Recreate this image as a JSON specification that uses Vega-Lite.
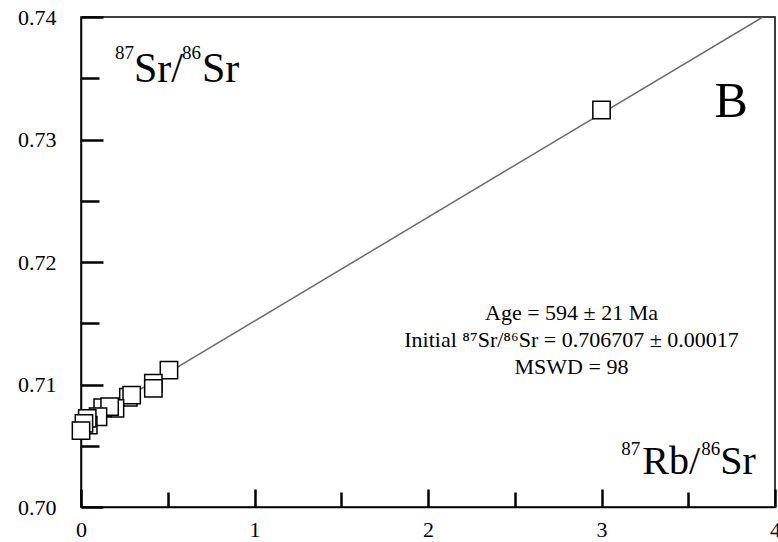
{
  "$schema": "https://vega.github.io/schema/vega-lite/v6.json",
  "width": 694,
  "height": 490,
  "autosize": {"type": "none"},
  "padding": {"left": 81, "top": 17, "right": 3, "bottom": 35},
  "background": "white",
  "config": {
    "view": {"stroke": "black", "strokeWidth": 1.5},
    "font": "Liberation Serif"
  },
  "datasets": {
    "points": [
      {"rbsr": 3.0, "srsr": 0.73241},
      {"rbsr": 0.507, "srsr": 0.71118},
      {"rbsr": 0.417, "srsr": 0.7101},
      {"rbsr": 0.417, "srsr": 0.70969},
      {"rbsr": 0.273, "srsr": 0.70896},
      {"rbsr": 0.292, "srsr": 0.70914},
      {"rbsr": 0.196, "srsr": 0.70805},
      {"rbsr": 0.125, "srsr": 0.70811},
      {"rbsr": 0.165, "srsr": 0.70819},
      {"rbsr": 0.098, "srsr": 0.70737},
      {"rbsr": 0.042, "srsr": 0.70669},
      {"rbsr": 0.036, "srsr": 0.70724},
      {"rbsr": 0.017, "srsr": 0.70683},
      {"rbsr": 0.0, "srsr": 0.70623}
    ],
    "isochron": [
      {"rbsr": 0.0, "srsr": 0.706707},
      {"rbsr": 3.93, "srsr": 0.74}
    ],
    "titles": [
      {"title": "y", "part": "sup1", "text": "87", "x": 0.196, "y": 0.73469},
      {"title": "y", "part": "main1", "text": "Sr/", "x": 0.196, "y": 0.73469},
      {"title": "y", "part": "sup2", "text": "86", "x": 0.196, "y": 0.73469},
      {"title": "y", "part": "main2", "text": "Sr", "x": 0.196, "y": 0.73469},
      {"title": "x", "part": "sup1", "text": "87", "x": 3.114, "y": 0.70269},
      {"title": "x", "part": "main1", "text": "Rb/", "x": 3.114, "y": 0.70269},
      {"title": "x", "part": "sup2", "text": "86", "x": 3.114, "y": 0.70269},
      {"title": "x", "part": "main2", "text": "Sr", "x": 3.114, "y": 0.70269}
    ],
    "panel": [
      {"x": 3.844, "y": 0.73184, "label": "B"}
    ],
    "stats": [
      {"x": 2.827, "y": 0.71527, "lines": ["Age = 594 ± 21 Ma", "Initial ⁸⁷Sr/⁸⁶Sr = 0.706707 ± 0.00017", "MSWD = 98"]}
    ]
  },
  "encoding": {
    "x": {
      "type": "quantitative",
      "scale": {"domain": [0, 4], "nice": false, "zero": false},
      "axis": {
        "title": null,
        "values": [0, 0.5, 1, 1.5, 2, 2.5, 3, 3.5, 4],
        "labelExpr": "datum.value % 1 == 0 ? format(datum.value, 'd') : ''",
        "grid": false,
        "domainColor": "black",
        "domainWidth": 1.5,
        "tickColor": "black",
        "tickWidth": 2.5,
        "tickSize": {"condition": {"test": "datum.value % 1 == 0", "value": -18}, "value": -15},
        "labelFont": "Liberation Serif",
        "labelFontSize": 22,
        "labelColor": "black",
        "labelPadding": 30,
        "labelFlush": false
      }
    },
    "y": {
      "type": "quantitative",
      "scale": {"domain": [0.7, 0.74], "nice": false, "zero": false},
      "axis": {
        "title": null,
        "values": [0.7, 0.705, 0.71, 0.715, 0.72, 0.725, 0.73, 0.735, 0.74],
        "labelExpr": "round(datum.value * 200) % 2 == 0 ? format(datum.value, '.2f') : ''",
        "grid": false,
        "domainColor": "black",
        "domainWidth": 1.5,
        "tickColor": "black",
        "tickWidth": 2.5,
        "tickSize": {"condition": {"test": "round(datum.value * 200) % 2 == 0", "value": -22}, "value": -18},
        "labelFont": "Liberation Serif",
        "labelFontSize": 22,
        "labelColor": "black",
        "labelPadding": 47,
        "labelFlush": false
      }
    }
  },
  "layer": [
    {
      "data": {"name": "isochron"},
      "mark": {"type": "line", "color": "#6b6b6b", "strokeWidth": 1.5, "clip": true},
      "encoding": {
        "x": {"field": "rbsr", "type": "quantitative"},
        "y": {"field": "srsr", "type": "quantitative"}
      }
    },
    {
      "data": {"name": "points"},
      "mark": {"type": "point", "shape": "square", "filled": true, "fill": "white", "stroke": "black", "strokeWidth": 1.5, "size": 300, "opacity": 1},
      "encoding": {
        "x": {"field": "rbsr", "type": "quantitative"},
        "y": {"field": "srsr", "type": "quantitative"}
      }
    },
    {
      "data": {"name": "titles"},
      "transform": [{"filter": "datum.title == 'y' && datum.part == 'sup1'"}],
      "mark": {"type": "text", "align": "left", "baseline": "alphabetic", "fontSize": 19, "dx": 0, "dy": -23, "font": "Liberation Serif", "color": "black"},
      "encoding": {"x": {"field": "x", "type": "quantitative"}, "y": {"field": "y", "type": "quantitative"}, "text": {"field": "text"}}
    },
    {
      "data": {"name": "titles"},
      "transform": [{"filter": "datum.title == 'y' && datum.part == 'main1'"}],
      "mark": {"type": "text", "align": "left", "baseline": "alphabetic", "fontSize": 42, "dx": 19, "font": "Liberation Serif", "color": "black"},
      "encoding": {"x": {"field": "x", "type": "quantitative"}, "y": {"field": "y", "type": "quantitative"}, "text": {"field": "text"}}
    },
    {
      "data": {"name": "titles"},
      "transform": [{"filter": "datum.title == 'y' && datum.part == 'sup2'"}],
      "mark": {"type": "text", "align": "left", "baseline": "alphabetic", "fontSize": 19, "dx": 67, "dy": -23, "font": "Liberation Serif", "color": "black"},
      "encoding": {"x": {"field": "x", "type": "quantitative"}, "y": {"field": "y", "type": "quantitative"}, "text": {"field": "text"}}
    },
    {
      "data": {"name": "titles"},
      "transform": [{"filter": "datum.title == 'y' && datum.part == 'main2'"}],
      "mark": {"type": "text", "align": "left", "baseline": "alphabetic", "fontSize": 42, "dx": 87, "font": "Liberation Serif", "color": "black"},
      "encoding": {"x": {"field": "x", "type": "quantitative"}, "y": {"field": "y", "type": "quantitative"}, "text": {"field": "text"}}
    },
    {
      "data": {"name": "titles"},
      "transform": [{"filter": "datum.title == 'x' && datum.part == 'sup1'"}],
      "mark": {"type": "text", "align": "left", "baseline": "alphabetic", "fontSize": 19, "dx": 0, "dy": -19, "font": "Liberation Serif", "color": "black"},
      "encoding": {"x": {"field": "x", "type": "quantitative"}, "y": {"field": "y", "type": "quantitative"}, "text": {"field": "text"}}
    },
    {
      "data": {"name": "titles"},
      "transform": [{"filter": "datum.title == 'x' && datum.part == 'main1'"}],
      "mark": {"type": "text", "align": "left", "baseline": "alphabetic", "fontSize": 40, "dx": 21, "font": "Liberation Serif", "color": "black"},
      "encoding": {"x": {"field": "x", "type": "quantitative"}, "y": {"field": "y", "type": "quantitative"}, "text": {"field": "text"}}
    },
    {
      "data": {"name": "titles"},
      "transform": [{"filter": "datum.title == 'x' && datum.part == 'sup2'"}],
      "mark": {"type": "text", "align": "left", "baseline": "alphabetic", "fontSize": 19, "dx": 80, "dy": -19, "font": "Liberation Serif", "color": "black"},
      "encoding": {"x": {"field": "x", "type": "quantitative"}, "y": {"field": "y", "type": "quantitative"}, "text": {"field": "text"}}
    },
    {
      "data": {"name": "titles"},
      "transform": [{"filter": "datum.title == 'x' && datum.part == 'main2'"}],
      "mark": {"type": "text", "align": "left", "baseline": "alphabetic", "fontSize": 40, "dx": 99, "font": "Liberation Serif", "color": "black"},
      "encoding": {"x": {"field": "x", "type": "quantitative"}, "y": {"field": "y", "type": "quantitative"}, "text": {"field": "text"}}
    },
    {
      "data": {"name": "panel"},
      "mark": {"type": "text", "align": "right", "baseline": "alphabetic", "fontSize": 50, "font": "Liberation Serif", "color": "black"},
      "encoding": {
        "x": {"field": "x", "type": "quantitative"},
        "y": {"field": "y", "type": "quantitative"},
        "text": {"field": "label"}
      }
    },
    {
      "data": {"name": "stats"},
      "mark": {"type": "text", "align": "center", "baseline": "alphabetic", "fontSize": 22, "lineHeight": 27, "font": "Liberation Serif", "color": "black"},
      "encoding": {
        "x": {"field": "x", "type": "quantitative"},
        "y": {"field": "y", "type": "quantitative"},
        "text": {"field": "lines"}
      }
    }
  ]
}
